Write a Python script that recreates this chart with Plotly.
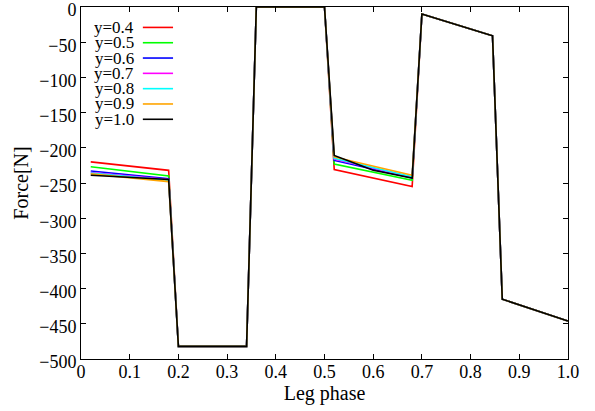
import plotly.graph_objects as go

phase = [0.02, 0.18, 0.20, 0.34, 0.36, 0.50, 0.52, 0.60, 0.68, 0.70, 0.845, 0.865, 1.0]

labels = ["y=0.4", "y=0.5", "y=0.6", "y=0.7", "y=0.8", "y=0.9", "y=1.0"]
colors = ["#ff0000", "#00ff00", "#0000ff", "#ff00ff", "#00ffff", "#ffa500", "#000000"]

f_04 = [-220, -232, -482, -482, 0, 0, -231, -243, -255, -10, -41, -415, -446]
f_05 = [-227, -240, -482, -482, 0, 0, -223, -235, -246, -10, -41, -415, -446]
f_06 = [-233, -244, -482, -482, 0, 0, -218, -231, -243, -10, -41, -415, -446]
f_07 = [-235, -245, -482, -482, 0, 0, -216, -229, -242, -10, -41, -415, -446]
f_08 = [-236, -246, -482, -482, 0, 0, -215, -228, -241, -10, -41, -415, -446]
f_09 = [-237, -248, -482, -482, 0, 0, -213, -226, -239, -10, -41, -415, -446]
f_10 = [-239, -245, -482, -482, 0, 0, -211, -232, -243, -10, -41, -415, -446]
series = [f_04, f_05, f_06, f_07, f_08, f_09, f_10]

xticks = [0, 0.1, 0.2, 0.3, 0.4, 0.5, 0.6, 0.7, 0.8, 0.9, 1.0]
xticktext = ["0", "0.1", "0.2", "0.3", "0.4", "0.5", "0.6", "0.7", "0.8", "0.9", "1.0"]
yticks = [0, -50, -100, -150, -200, -250, -300, -350, -400, -450, -500]

FONT = "Liberation Serif"

fig = go.Figure()
for name, col, vals in zip(labels, colors, series):
    fig.add_trace(go.Scatter(x=phase, y=vals, mode="lines", name=name,
                             line=dict(color=col, width=1.6), showlegend=False))

# legend drawn manually (text left of sample line, gnuplot style)
y0 = 0.942
dy = 0.0435
for i, (name, col) in enumerate(zip(labels, colors)):
    yy = y0 - i * dy
    fig.add_annotation(x=0.113, y=yy, xref="paper", yref="paper", text=name,
                       showarrow=False, xanchor="right", yanchor="middle",
                       font=dict(family=FONT, size=17, color="black"))
    fig.add_shape(type="line", xref="paper", yref="paper", x0=0.127, x1=0.189,
                  y0=yy, y1=yy, line=dict(color=col, width=1.6))

axis_common = dict(showline=True, linecolor="black", linewidth=1, mirror="ticks",
                   ticks="inside", ticklen=5, tickcolor="black", showgrid=False,
                   zeroline=False, ticklabeloverflow="allow", automargin=False,
                   tickfont=dict(family=FONT, size=18, color="black"))

fig.update_xaxes(range=[0, 1.0], tickvals=xticks, ticktext=xticktext,
                 ticklabelstandoff=-4,
                 title=dict(text="Leg phase", font=dict(family=FONT, size=20, color="black"), standoff=0),
                 **axis_common)
fig.update_yaxes(range=[-500, 0], tickvals=yticks, ticklabelshift=3,
                 title=dict(text="Force[N]", font=dict(family=FONT, size=20, color="black"), standoff=5),
                 **axis_common)

fig.update_layout(width=595, height=411, margin=dict(l=81, r=27, t=7, b=52),
                  plot_bgcolor="white", paper_bgcolor="white")

fig.write_html("out.html")
